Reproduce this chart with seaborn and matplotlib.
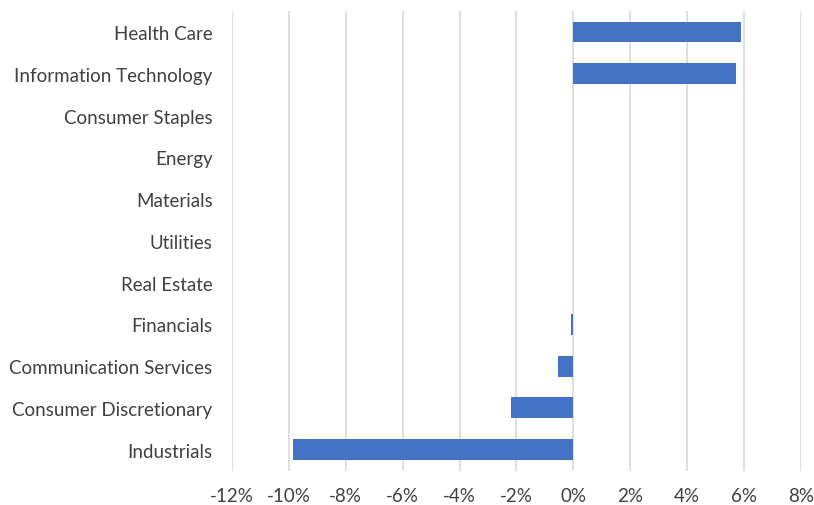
import seaborn as sns
import matplotlib.pyplot as plt
import pandas as pd
from matplotlib.ticker import PercentFormatter

# sectores y rendimiento (%)
sectores = ['Health Care', 'Information Technology', 'Consumer Staples', 'Energy',
            'Materials', 'Utilities', 'Real Estate', 'Financials',
            'Communication Services', 'Consumer Discretionary', 'Industrials']
valores = [5.88, 5.73, 0, 0, 0, 0, 0, -0.09, -0.53, -2.18, -9.86]
ticks_x = [-12, -10, -8, -6, -4, -2, 0, 2, 4, 6, 8]

datos = pd.DataFrame({'sector': sectores, 'valor': valores})

sns.set_style('white')
plt.rcParams['font.family'] = ['Lato', 'DejaVu Sans']
plt.rcParams['axes.unicode_minus'] = False

fig = plt.figure(figsize=(8.14, 5.06), dpi=100)
ax = fig.add_axes([0.285, 0.068, 0.699, 0.908])

sns.barplot(data=datos, x='valor', y='sector', orient='h', color='#4472C4',
            width=0.5, saturation=1, linewidth=0, ax=ax, zorder=3)

ax.set_xlim(-12, 8)
ax.set_xticks(ticks_x)
ax.xaxis.set_major_formatter(PercentFormatter(decimals=0))
ax.grid(axis='x', color='#d9d9d9', linewidth=1.2, zorder=0)
ax.set_axisbelow(True)
for s in ax.spines.values():
    s.set_visible(False)
ax.tick_params(axis='both', length=0, labelsize=13.5, colors='#404040')
ax.tick_params(axis='y', pad=14)
ax.tick_params(axis='x', pad=12)
ax.set_xlabel('')
ax.set_ylabel('')

plt.savefig('out.png', dpi=100)
